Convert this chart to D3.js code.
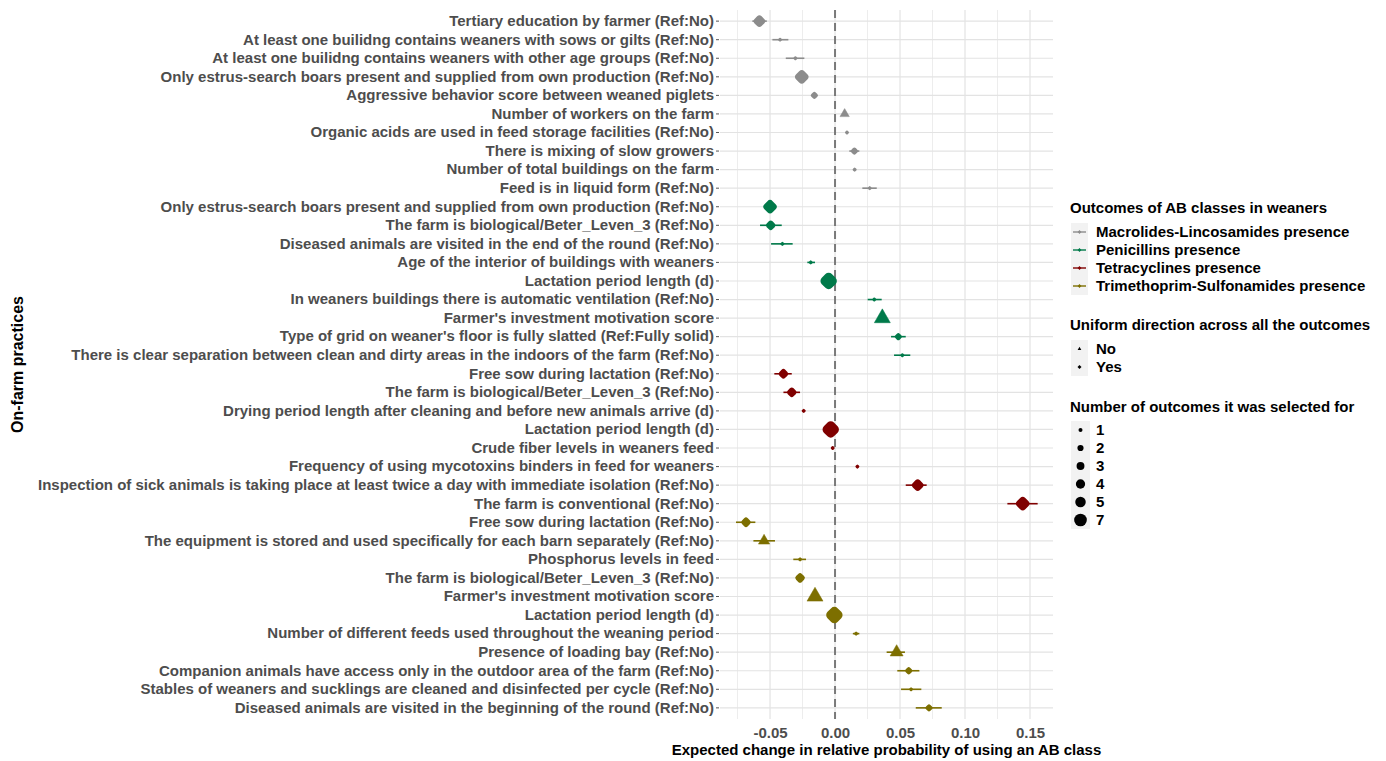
<!DOCTYPE html>
<html><head><meta charset="utf-8">
<script src="https://cdn.jsdelivr.net/npm/d3@7"></script>
<style>
body{margin:0;background:#fff;}
text{font-family:"Liberation Sans",Arial,sans-serif;font-weight:bold;}
</style></head>
<body>
<svg id="chart" width="1386" height="761"></svg>
<script>
const practices = [
"Tertiary education by farmer (Ref:No)",
"At least one builidng contains weaners with sows or gilts (Ref:No)",
"At least one builidng contains weaners with other age groups (Ref:No)",
"Only estrus-search boars present and supplied from own production (Ref:No)",
"Aggressive behavior score between weaned piglets",
"Number of workers on the farm",
"Organic acids are used in feed storage facilities (Ref:No)",
"There is mixing of slow growers",
"Number of total buildings on the farm",
"Feed is in liquid form (Ref:No)",
"Only estrus-search boars present and supplied from own production (Ref:No)",
"The farm is biological/Beter_Leven_3 (Ref:No)",
"Diseased animals are visited in the end of the round (Ref:No)",
"Age of the interior of buildings with weaners",
"Lactation period length (d)",
"In weaners buildings there is automatic ventilation (Ref:No)",
"Farmer's investment motivation score",
"Type of grid on weaner's floor is fully slatted (Ref:Fully solid)",
"There is clear separation between clean and dirty areas in the indoors of the farm (Ref:No)",
"Free sow during lactation (Ref:No)",
"The farm is biological/Beter_Leven_3 (Ref:No)",
"Drying period length after cleaning and before new animals arrive (d)",
"Lactation period length (d)",
"Crude fiber levels in weaners feed",
"Frequency of using mycotoxins binders in feed for weaners",
"Inspection of sick animals is taking place at least twice a day with immediate isolation (Ref:No)",
"The farm is conventional (Ref:No)",
"Free sow during lactation (Ref:No)",
"The equipment is stored and used specifically for each barn separately (Ref:No)",
"Phosphorus levels in feed",
"The farm is biological/Beter_Leven_3 (Ref:No)",
"Farmer's investment motivation score",
"Lactation period length (d)",
"Number of different feeds used throughout the weaning period",
"Presence of loading bay (Ref:No)",
"Companion animals have access only in the outdoor area of the farm (Ref:No)",
"Stables of weaners and sucklings are cleaned and disinfected per cycle (Ref:No)",
"Diseased animals are visited in the beginning of the round (Ref:No)"
];
const outcomeNames = ["Macrolides-Lincosamides presence","Penicillins presence","Tetracyclines presence","Trimethoprim-Sulfonamides presence"];
const outcomeColors = ["#8c8c8c","#007a4a","#800000","#7d6f00"];
const outcome = [0,0,0,0,0,0,0,0,0,0, 1,1,1,1,1,1,1,1,1, 2,2,2,2,2,2,2,2, 3,3,3,3,3,3,3,3,3,3,3];
const estimate = [-0.0582,-0.0423,-0.0305,-0.0256,-0.0159,0.0074,0.0092,0.0149,0.0151,0.0267,
 -0.0500,-0.0495,-0.0405,-0.0187,-0.0049,0.0302,0.0364,0.0487,0.0518,
 -0.0397,-0.0333,-0.0241,-0.0033,-0.0018,0.0172,0.0636,0.1444,
 -0.0685,-0.0546,-0.0269,-0.0269,-0.0154,-0.0005,0.0162,0.0474,0.0567,0.0585,0.0723];
const lower = [-0.0636,-0.0482,-0.0379,-0.0280,-0.0172,0.0060,0.0085,0.0110,0.0143,0.0210,
 -0.0540,-0.0577,-0.0492,-0.0213,-0.0075,0.0251,0.0330,0.0431,0.0454,
 -0.0467,-0.0397,-0.0250,-0.0060,-0.0025,0.0162,0.0544,0.1326,
 -0.0762,-0.0628,-0.0321,-0.0290,-0.0185,-0.0030,0.0137,0.0397,0.0479,0.0508,0.0621];
const upper = [-0.0525,-0.0359,-0.0236,-0.0232,-0.0146,0.0088,0.0099,0.0187,0.0159,0.0321,
 -0.0460,-0.0410,-0.0326,-0.0154,-0.0023,0.0359,0.0398,0.0544,0.0579,
 -0.0333,-0.0269,-0.0232,-0.0006,-0.0011,0.0182,0.0705,0.1559,
 -0.0613,-0.0462,-0.0223,-0.0248,-0.0123,0.0020,0.0187,0.0538,0.0649,0.0664,0.0821];
const uniform = ["Yes","Yes","Yes","Yes","Yes","No","Yes","Yes","Yes","Yes",
 "Yes","Yes","Yes","Yes","Yes","Yes","No","Yes","Yes",
 "Yes","Yes","Yes","Yes","Yes","Yes","Yes","Yes",
 "Yes","No","Yes","Yes","No","Yes","Yes","No","Yes","Yes","Yes"];
const nOutcomes = [4,1,1,5,2,3,1,2,1,1,
 5,3,1,1,7,1,7,2,1,
 3,3,1,7,1,1,4,5,
 3,4,1,3,7,7,1,5,2,1,2];
const xTicks = [-0.05,0,0.05,0.10,0.15];
const xMinor = [-0.075,-0.025,0.025,0.075,0.125];
const sizeLevels = [1,2,3,4,5,7];
const shapeLevels = ["No","Yes"];

const svg = d3.select("#chart");
const m = {left:720, right:1053, top:10, bottom:719};
const x = d3.scaleLinear().domain([-0.0885,0.1677]).range([m.left,m.right]);
const y = d3.scaleBand().domain(d3.range(practices.length)).range([m.top,m.bottom]).paddingOuter(0.1).paddingInner(0);
const yc = i => y(i)+y.bandwidth()/2;
const r = d3.scaleSqrt().domain([1,7]).range([2,8.2]);

function triPath(cx, cy, rad){
  const s = rad*1.95, h = s*Math.sqrt(3)/2;
  return `M${cx},${cy-2*h/3}L${cx+s/2},${cy+h/3}L${cx-s/2},${cy+h/3}Z`;
}
function diaPath(cx, cy, hd){
  return `M${cx},${cy-hd}L${cx+hd},${cy}L${cx},${cy+hd}L${cx-hd},${cy}Z`;
}

const g = svg.append("g");
// grid
g.selectAll(".gm").data(xMinor).join("line").attr("x1",d=>x(d)).attr("x2",d=>x(d))
 .attr("y1",m.top).attr("y2",m.bottom).attr("stroke","#ededed").attr("stroke-width",1);
g.selectAll(".gM").data(xTicks).join("line").attr("x1",d=>x(d)).attr("x2",d=>x(d))
 .attr("y1",m.top).attr("y2",m.bottom).attr("stroke","#e3e3e3").attr("stroke-width",1.2);
g.selectAll(".gy").data(d3.range(practices.length)).join("line").attr("x1",m.left).attr("x2",m.right)
 .attr("y1",d=>yc(d)).attr("y2",d=>yc(d)).attr("stroke","#e3e3e3").attr("stroke-width",1.2);

// zero line
g.append("line").attr("x1",x(0)).attr("x2",x(0)).attr("y1",m.top).attr("y2",m.bottom)
 .attr("stroke","#7a7a7a").attr("stroke-width",2).attr("stroke-dasharray","8,5");

// y axis
const yAxis = d3.axisLeft(y).tickFormat(i=>practices[i]).tickSize(3).tickPadding(2);
const ya = svg.append("g").attr("transform",`translate(${m.left-1},0)`).call(yAxis);
ya.select(".domain").remove();
ya.selectAll(".tick line").attr("stroke","#555");
ya.selectAll(".tick text").attr("fill","#4d4d4d").style("font-size","15px").style("font-weight","bold");

// x axis
const xAxis = d3.axisBottom(x).tickValues(xTicks).tickFormat(d3.format(".2f")).tickSize(0).tickPadding(8);
const xa = svg.append("g").attr("transform",`translate(0,${m.bottom})`).call(xAxis);
xa.select(".domain").remove();
xa.selectAll(".tick text").attr("fill","#4d4d4d").style("font-size","15px").style("font-weight","bold")
 .text(d=>d3.format(".2f")(d).replace("−","-"));

// error bars
const idx = d3.range(practices.length);
g.selectAll(".eb").data(idx).join("line").attr("x1",i=>x(lower[i])).attr("x2",i=>x(upper[i]))
 .attr("y1",i=>yc(i)).attr("y2",i=>yc(i)).attr("stroke",i=>outcomeColors[outcome[i]]).attr("stroke-width",1.6);
// points: triangle (No) or rounded diamond (Yes)
g.selectAll(".pt").data(idx).join("path")
 .attr("d",i=>{const rad=r(nOutcomes[i]);return uniform[i]==="No"?triPath(x(estimate[i]),yc(i),rad):diaPath(x(estimate[i]),yc(i),rad*0.45);})
 .attr("fill",i=>outcomeColors[outcome[i]])
 .attr("stroke",i=>outcomeColors[outcome[i]])
 .attr("stroke-width",i=>uniform[i]==="Yes"?r(nOutcomes[i])*1.1:0.5)
 .attr("stroke-linejoin","round");

// axis titles
svg.append("text").attr("x",(m.left+m.right)/2).attr("y",755).attr("text-anchor","middle")
 .style("font-size","15px").attr("fill","#000").text("Expected change in relative probability of using an AB class");
svg.append("text").attr("transform",`translate(23,${(m.top+m.bottom)/2}) rotate(-90)`).attr("text-anchor","middle")
 .style("font-size","16px").attr("fill","#000").text("On-farm practices");

// legends
const L = svg.append("g");
const lx = 1070;
const title = (t,yy)=>L.append("text").attr("x",lx).attr("y",yy).style("font-size","15px").attr("fill","#000").text(t);
const item = (t,yy)=>L.append("text").attr("x",lx+26).attr("y",yy+5).style("font-size","15px").attr("fill","#000").text(t);
const keyBg = (yy)=>L.append("rect").attr("x",lx+1).attr("y",yy-9).attr("width",17).attr("height",18).attr("fill","#f2f2f2");

title("Outcomes of AB classes in weaners",213);
outcomeNames.forEach((n,k)=>{
  const yy = 232 + k*18;
  keyBg(yy);
  L.append("line").attr("x1",lx+3).attr("x2",lx+16).attr("y1",yy).attr("y2",yy).attr("stroke",outcomeColors[k]).attr("stroke-width",1.4);
  L.append("path").attr("d",diaPath(lx+9.5,yy,1.9)).attr("fill",outcomeColors[k]);
  item(n,yy);
});
title("Uniform direction across all the outcomes",330);
shapeLevels.forEach((s,k)=>{
  const yy = 349 + k*18;
  keyBg(yy);
  L.append("path").attr("d",s==="No"?triPath(lx+9.5,yy,1.9):diaPath(lx+9.5,yy,2)).attr("fill","#000");
  item(s,yy);
});
title("Number of outcomes it was selected for",412);
sizeLevels.forEach((s,k)=>{
  const yy = 430 + k*18;
  L.append("rect").attr("x",lx+1).attr("y",yy-9).attr("width",19).attr("height",18).attr("fill","#f2f2f2");
  L.append("circle").attr("cx",lx+10.5).attr("cy",yy).attr("r",r(s)*0.7+0.6).attr("fill","#000");
  item(String(s),yy);
});
</script>
</body></html>
